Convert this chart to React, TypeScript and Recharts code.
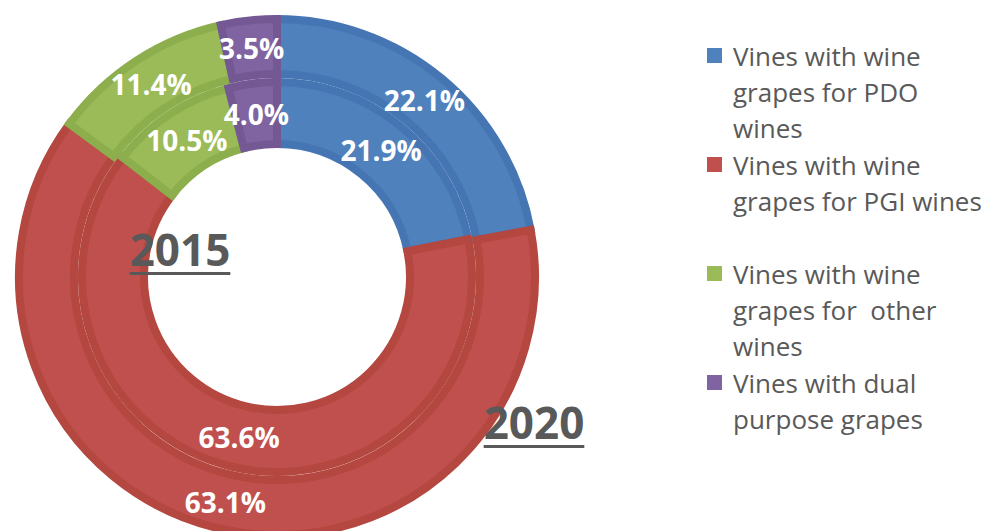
import { PieChart, Pie, Cell, Legend } from "recharts";

// categories (line breaks follow the legend in the picture)
const categories = [
  "Vines with wine\ngrapes for PDO\nwines",
  "Vines with wine\ngrapes for PGI wines",
  "Vines with wine\ngrapes for  other\nwines",
  "Vines with dual\npurpose grapes",
];
const values2015 = [21.9, 63.6, 10.5, 4.0]; // inner ring
const values2020 = [22.1, 63.1, 11.4, 3.5]; // outer ring
const years = ["2015", "2020"];

const fills = ["#4f81bd", "#c0504d", "#9bbb59", "#8064a2"];
const edges = ["#4576b3", "#b4473f", "#8dae4d", "#745894"];

const data2015 = categories.map((name, i) => ({ name, value: values2015[i] }));
const data2020 = categories.map((name, i) => ({ name, value: values2020[i] }));

const RAD = Math.PI / 180;
const FONT = "'Open Sans', 'Noto Sans', sans-serif";

const renderLabel = (p: any) => {
  const r = (p.innerRadius + p.outerRadius) / 2;
  const x = p.cx + r * Math.cos(-p.midAngle * RAD);
  const y = p.cy + r * Math.sin(-p.midAngle * RAD);
  return (
    <text
      x={x}
      y={y}
      fill="#ffffff"
      textAnchor="middle"
      dominantBaseline="central"
      fontFamily={FONT}
      fontWeight={700}
      fontSize={28}
    >
      {Number(p.value).toFixed(1)}%
    </text>
  );
};

const LegendBox = () => (
  <div style={{ fontFamily: FONT, fontSize: 26, color: "#595959" }}>
    {categories.map((c, i) => (
      <div key={c} style={{ position: "relative", height: 109 }}>
        <div
          style={{
            position: "absolute",
            left: 0,
            top: 10,
            width: 15,
            height: 15,
            background: fills[i],
          }}
        />
        <div
          style={{
            position: "absolute",
            left: 26,
            top: 0,
            lineHeight: "36px",
            whiteSpace: "pre",
          }}
        >
          {c}
        </div>
      </div>
    ))}
  </div>
);

const yearStyle = {
  position: "absolute" as const,
  width: 200,
  textAlign: "center" as const,
  fontFamily: FONT,
  fontWeight: 700,
  fontSize: 44,
  lineHeight: "44px",
  color: "#595959",
  textDecoration: "underline",
  textDecorationThickness: 3,
  textUnderlineOffset: 6,
};

export default function App() {
  return (
    <div
      style={{
        position: "absolute",
        left: 0,
        top: 0,
        width: 987,
        height: 531,
        overflow: "hidden",
        background: "#fff",
      }}
    >
      <PieChart width={987} height={531} margin={{ top: 0, right: 0, bottom: 0, left: 0 }}>
        <Pie
          data={data2015}
          dataKey="value"
          nameKey="name"
          cx={277}
          cy={277}
          innerRadius={133}
          outerRadius={195}
          startAngle={90}
          endAngle={-270}
          label={renderLabel}
          labelLine={false}
          isAnimationActive={false}
        >
          {data2015.map((d, i) => (
            <Cell key={d.name} fill={fills[i]} stroke={edges[i]} strokeWidth={8} />
          ))}
        </Pie>
        <Pie
          data={data2020}
          dataKey="value"
          nameKey="name"
          cx={277}
          cy={277}
          innerRadius={203}
          outerRadius={258}
          startAngle={90}
          endAngle={-270}
          label={renderLabel}
          labelLine={false}
          isAnimationActive={false}
        >
          {data2020.map((d, i) => (
            <Cell key={d.name} fill={fills[i]} stroke={edges[i]} strokeWidth={8} />
          ))}
        </Pie>
        <Legend
          content={LegendBox}
          wrapperStyle={{ position: "absolute", left: 707, top: 38, width: 280, bottom: "auto" }}
        />
      </PieChart>
      <div style={{ ...yearStyle, left: 80, top: 227 }}>{years[0]}</div>
      <div style={{ ...yearStyle, left: 434, top: 400 }}>{years[1]}</div>
    </div>
  );
}
